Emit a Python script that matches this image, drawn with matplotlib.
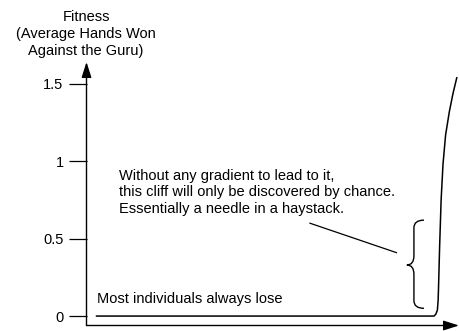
import matplotlib
matplotlib.use("Agg")
import matplotlib.pyplot as plt
from matplotlib.path import Path
from matplotlib.patches import PathPatch

plt.rcParams["font.family"] = ["Liberation Sans", "DejaVu Sans"]

# fitness landscape: flat almost everywhere, then a sudden cliff at the far right
fitness_x = [2.7, 50.0, 92.2, 93.3, 93.8, 94.2, 94.4, 94.5, 94.8, 95.2, 95.7, 96.4, 97.4, 98.4, 99.4]
fitness_y = [0.0, 0.0, 0.0, 0.0, 0.013, 0.039, 0.103, 0.18, 0.45, 0.75, 0.98, 1.17, 1.32, 1.44, 1.54]

y_ticks = [0, 0.5, 1, 1.5]
y_tick_labels = ["0", "0.5", "1", "1.5"]

FS = 10.5
W, H = 459, 331
fig = plt.figure(figsize=(W / 100, H / 100), dpi=100)
ax = fig.add_axes([86.5 / W, (H - 325.5) / H, (W - 86.5) / W, (325.5 - 62) / H])
ax.set_xlim(0, 100)
ax.set_ylim(-0.061, 1.642)
for s in ax.spines.values():
    s.set_visible(False)

# axes drawn as arrows
arrow = dict(arrowstyle="-|>,head_length=0.47,head_width=0.15", mutation_scale=20,
             color="black", lw=1.0, shrinkA=0, shrinkB=0)
ax.annotate("", xy=(0, 1), xytext=(0, 0), xycoords="axes fraction", arrowprops=arrow)
ax.annotate("", xy=(1, 0), xytext=(0, 0), xycoords="axes fraction", arrowprops=arrow)

ax.set_xticks([])
ax.set_yticks(y_ticks)
ax.set_yticklabels(y_tick_labels, fontsize=FS)
ax.tick_params(axis="y", length=13, width=0.9, pad=3.5, direction="out")

ax.plot(fitness_x, fitness_y, color="black", lw=1.1, solid_joinstyle="round")

# curly brace marking the cliff
bx0, bx1, bxt = 87.9, 90.6, 86.0
verts = [(bx1, 0.62), (bx0, 0.62), (bx0, 0.57), (bx0, 0.39),
         (bx0, 0.33), (bxt, 0.33), (bx0, 0.33), (bx0, 0.27),
         (bx0, 0.10), (bx0, 0.05), (bx1, 0.05)]
codes = [Path.MOVETO, Path.CURVE3, Path.CURVE3, Path.LINETO,
         Path.CURVE3, Path.CURVE3, Path.CURVE3, Path.CURVE3,
         Path.LINETO, Path.CURVE3, Path.CURVE3]
ax.add_patch(PathPatch(Path(verts, codes), fill=False, lw=1.0, color="black"))

ax.plot([60.0, 83.2], [0.60, 0.41], color="black", lw=0.9)

ax.text(8.6, 0.666, "Without any gradient to lead to it,\n"
        "this cliff will only be discovered by chance.\n"
        "Essentially a needle in a haystack.",
        fontsize=FS, va="baseline", ha="left", linespacing=1.25)
ax.text(2.7, 0.084, "Most individuals always lose", fontsize=FS, va="baseline", ha="left")

fig.text(86 / W, 1 - 55 / H, "Fitness\n(Average Hands Won\nAgainst the Guru)",
         fontsize=FS, ha="center", va="baseline", multialignment="center",
         linespacing=1.27)

fig.savefig("out.png", dpi=100)
